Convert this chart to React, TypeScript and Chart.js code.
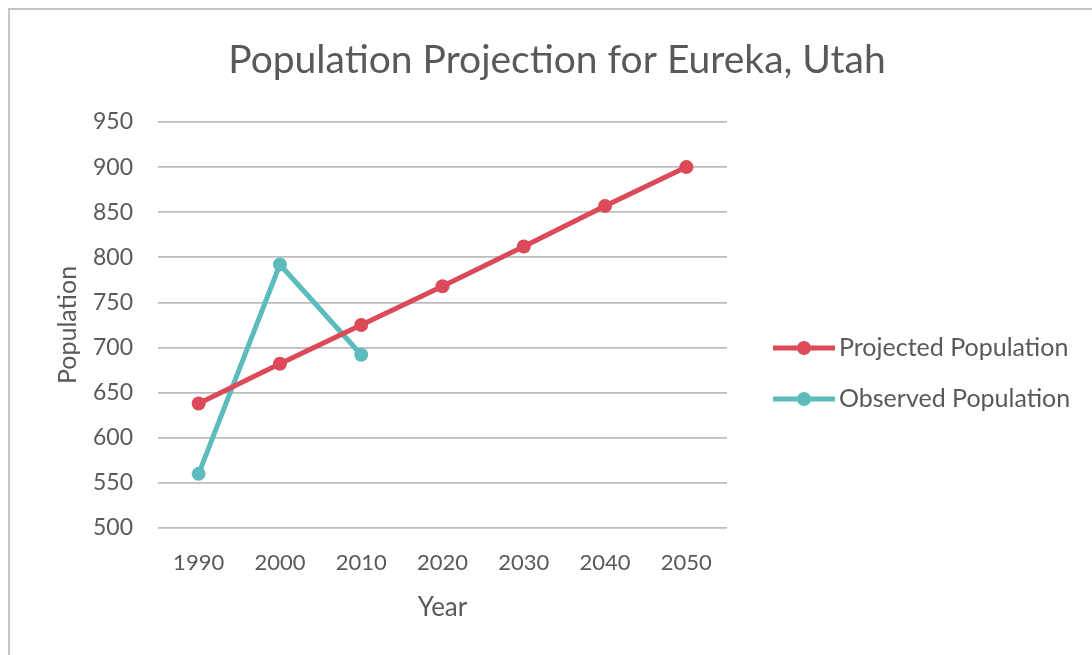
import React, { useEffect, useRef } from 'react';
import { Chart, registerables } from 'chart.js';

Chart.register(...registerables);

const years = ['1990', '2000', '2010', '2020', '2030', '2040', '2050'];
const projectedPopulation = [638, 682, 725, 768, 812, 857, 900];
const observedPopulation = [560, 792, 692, null, null, null, null];
const seriesNames = ['Projected Population', 'Observed Population'];
const seriesColors = ['#dc4a59', '#5cbcbc'];
const chartTitle = 'Population Projection for Eureka, Utah';
const xAxisTitle = 'Year';
const yAxisTitle = 'Population';
const yMin = 500;
const yMax = 950;
const yStep = 50;

const FONT = 'Lato, "Open Sans", sans-serif';
const TEXT = '#595959';

const titlePlugin = {
  id: 'customTitle',
  afterDraw(chart: any) {
    const ctx = chart.ctx;
    ctx.save();
    ctx.font = `39px ${FONT}`;
    ctx.fillStyle = TEXT;
    ctx.textAlign = 'center';
    ctx.textBaseline = 'middle';
    ctx.fillText(chartTitle, 557, 60);
    ctx.restore();
  },
};

const legendPlugin = {
  id: 'customLegend',
  afterDraw(chart: any) {
    const ctx = chart.ctx;
    const area = chart.chartArea;
    const x0 = area.right + 46;
    const lineLen = 62;
    const yStart = 348;
    const gap = 51;
    ctx.save();
    chart.data.datasets.forEach((ds: any, i: number) => {
      const y = yStart + i * gap;
      ctx.strokeStyle = ds.borderColor;
      ctx.lineWidth = 5;
      ctx.beginPath();
      ctx.moveTo(x0, y);
      ctx.lineTo(x0 + lineLen, y);
      ctx.stroke();
      ctx.fillStyle = ds.borderColor;
      ctx.beginPath();
      ctx.arc(x0 + lineLen / 2, y, 7, 0, Math.PI * 2);
      ctx.fill();
      ctx.font = `25px ${FONT}`;
      ctx.fillStyle = TEXT;
      ctx.textAlign = 'left';
      ctx.textBaseline = 'middle';
      ctx.fillText(ds.label, x0 + lineLen + 4, y);
    });
    ctx.restore();
  },
};

export default function App() {
  const canvasRef = useRef<HTMLCanvasElement | null>(null);

  useEffect(() => {
    document.body.style.margin = '0';
    const canvas = canvasRef.current;
    if (!canvas) return;
    const chart = new Chart(canvas, {
      type: 'line',
      data: {
        labels: years,
        datasets: [
          {
            label: seriesNames[0],
            data: projectedPopulation,
            borderColor: seriesColors[0],
            backgroundColor: seriesColors[0],
            borderWidth: 5,
            pointRadius: 7,
            pointBorderWidth: 0,
            pointBackgroundColor: seriesColors[0],
            tension: 0,
          },
          {
            label: seriesNames[1],
            data: observedPopulation,
            borderColor: seriesColors[1],
            backgroundColor: seriesColors[1],
            borderWidth: 5,
            pointRadius: 7,
            pointBorderWidth: 0,
            pointBackgroundColor: seriesColors[1],
            tension: 0,
            spanGaps: false,
          },
        ],
      },
      options: {
        animation: false,
        responsive: false,
        maintainAspectRatio: false,
        layout: { padding: { left: 49, right: 365, top: 122, bottom: 20 } },
        plugins: {
          legend: { display: false },
          title: { display: false },
          tooltip: { enabled: false },
        },
        scales: {
          x: {
            type: 'category',
            offset: true,
            grid: { display: false, drawTicks: false },
            border: { display: false },
            ticks: { color: TEXT, font: { family: FONT, size: 22 }, padding: 22, maxRotation: 0 },
            title: {
              display: true,
              text: xAxisTitle,
              color: TEXT,
              font: { family: FONT, size: 26 },
              padding: { top: 4, bottom: 12 },
            },
            afterFit(scale: any) {
              scale.height = 655 - 20 - 528;
            },
          },
          y: {
            min: yMin,
            max: yMax,
            grid: { color: '#bdbdbd', lineWidth: 1.8, drawTicks: false },
            border: { display: false },
            ticks: {
              stepSize: yStep,
              color: TEXT,
              font: { family: FONT, size: 23 },
              padding: 25,
            },
            title: {
              display: true,
              text: yAxisTitle,
              color: TEXT,
              font: { family: FONT, size: 25 },
              padding: { top: 4, bottom: 4 },
            },
            afterFit(scale: any) {
              scale.width = 158 - 49;
            },
          },
        },
      },
      plugins: [titlePlugin, legendPlugin],
    });
    return () => chart.destroy();
  }, []);

  return (
    <div style={{ position: 'fixed', left: 0, top: 0, width: 1092, height: 655, background: '#ffffff' }}>
      <div
        style={{
          position: 'absolute',
          left: 8,
          top: 8,
          right: 0,
          bottom: 0,
          borderTop: '2px solid #c4c4c4',
          borderLeft: '2px solid #c4c4c4',
        }}
      />
      <canvas ref={canvasRef} width={1092} height={655} style={{ position: 'absolute', left: 0, top: 0 }} />
    </div>
  );
}
